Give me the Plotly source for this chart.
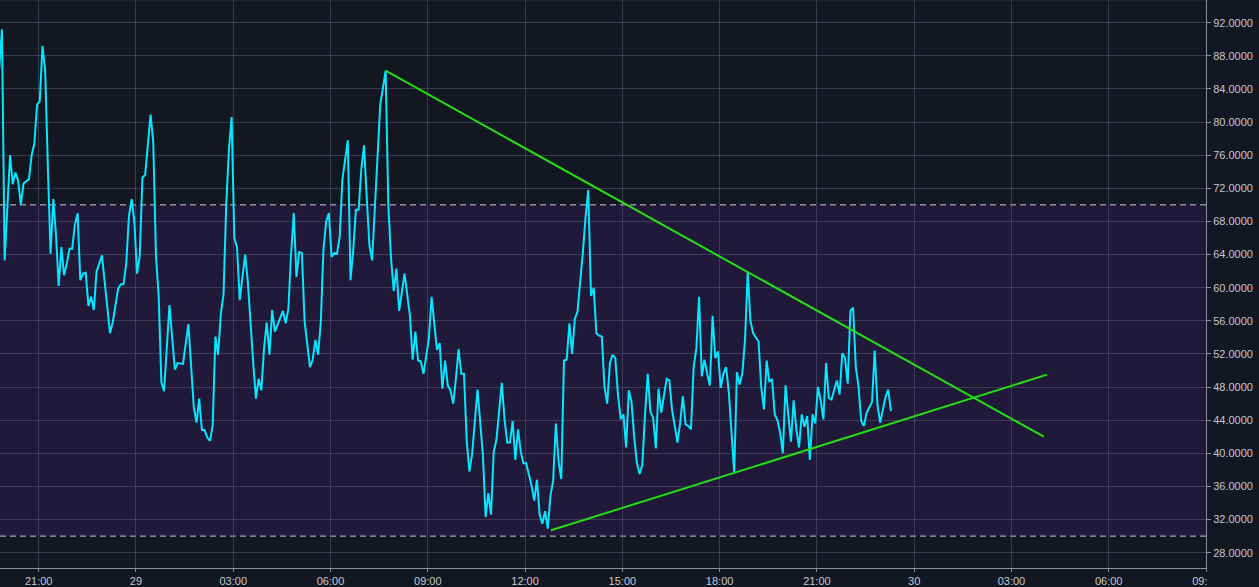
import pandas as pd
import plotly.graph_objects as go

# 5-minute bars counted from the first bar, and the RSI value read for each
START = pd.Timestamp("2019-06-28 19:52")

bars_a = [-1, 0, 1, 3, 4, 5, 6, 7, 8, 9,
          10, 11, 12, 13, 14, 15, 16, 17, 18, 19,
          20, 21, 22, 23, 24, 25, 26, 27, 28, 29,
          30, 31, 32, 33, 34, 35, 37, 40, 41, 43,
          44, 45, 46, 47, 48, 49, 50, 51, 52, 53]
rsi_a = [86.5, 91.2, 63.3, 76.0, 72.5, 73.9, 72.9, 70.0, 72.6, 72.8,
         73.1, 76.0, 77.4, 82.1, 82.5, 89.2, 86.2, 74.5, 64.1, 70.7,
         66.4, 60.2, 64.9, 61.5, 62.9, 64.7, 64.7, 67.6, 69.0, 60.9,
         61.7, 61.8, 57.8, 58.9, 57.3, 61.9, 63.9, 54.5, 55.8, 59.9,
         60.4, 60.4, 62.9, 68.6, 70.7, 68.0, 61.7, 63.8, 73.3, 73.6]

bars_b = [55, 56, 57, 58, 59, 60, 62, 64, 65,
          67, 69, 71, 72, 73, 74, 75, 76, 77, 78,
          79, 80, 81, 82, 83, 84, 85, 86, 87, 88,
          90, 91, 93, 94, 95, 96, 97, 98, 99, 100,
          101, 102, 104, 105, 106, 107, 108, 109]
rsi_b = [80.9, 77.6, 63.9, 59.0, 48.6, 47.5, 57.9, 50.1, 50.9,
         50.8, 55.6, 45.6, 43.7, 46.6, 42.8, 42.8, 41.9, 41.5, 43.4,
         54.1, 51.9, 56.8, 59.2, 70.0, 76.6, 80.6, 66.0, 64.9, 58.5,
         64.0, 60.7, 50.9, 46.6, 49.0, 47.6, 52.7, 55.8, 51.9, 57.3,
         54.7, 55.6, 57.2, 55.7, 57.4, 64.1, 69.0, 61.3]

bars_c = [110, 111, 112, 114, 115, 116, 117, 118, 119, 120,
          121, 122, 123, 124, 125, 126, 127, 128, 129, 130,
          131, 132, 133, 134, 135, 136, 137, 138, 139, 140,
          141, 142, 143, 144, 145, 146, 147, 149, 151, 152,
          153, 154, 155, 156, 157, 158, 159, 160, 161, 162,
          163, 164]
rsi_c = [64.3, 64.2, 56.0, 50.4, 51.3, 53.7, 51.9, 55.8, 64.7, 68.0,
         69.0, 63.7, 64.2, 64.1, 66.2, 73.1, 75.8, 77.8, 60.9, 64.5,
         69.4, 69.4, 74.3, 77.2, 70.9, 65.1, 63.3, 70.0, 77.0, 82.1,
         84.1, 86.2, 70.0, 63.5, 59.6, 62.3, 57.2, 61.7, 56.6, 51.3,
         54.7, 51.2, 51.1, 49.6, 51.7, 53.9, 58.9, 55.3, 52.5, 53.3,
         47.8, 51.2]

bars_d = [165, 166, 167, 168, 169, 170, 171, 172, 173, 174,
          176, 178, 179, 180, 181, 182, 183, 184, 185, 186,
          187, 188, 189, 190, 191, 192, 193, 194, 195, 196,
          197, 198, 199, 200, 201, 202, 203, 204, 205, 206,
          207, 208, 209, 210, 211, 212, 213, 214, 215, 216,
          217, 218, 219]
rsi_d = [48.2, 47.6, 46.0, 49.0, 52.6, 49.6, 49.6, 41.5, 37.8, 39.9,
         47.7, 39.8, 32.3, 35.2, 32.6, 40.2, 41.6, 45.1, 48.5, 44.1,
         41.3, 41.3, 43.9, 39.2, 42.9, 40.2, 38.8, 38.8, 37.4, 36.1,
         34.3, 36.8, 32.6, 31.5, 33.0, 30.9, 34.9, 36.7, 43.6, 39.0,
         36.9, 51.2, 51.3, 55.7, 52.0, 56.2, 57.1, 60.4, 64.3, 68.6,
         71.8, 59.0, 60.0]

bars_e = [220, 221, 222, 223, 224, 225, 226, 227, 228, 229,
          230, 231, 232, 233, 234, 235, 236, 237, 238, 239,
          240, 241, 242, 243, 244, 246, 247, 248, 249, 250,
          251, 252, 253, 254, 255, 256, 257, 258, 259, 260,
          261, 262, 263, 264, 265, 266, 267, 268, 269, 270,
          271, 272, 273, 274]
rsi_e = [54.5, 54.2, 54.1, 48.0, 46.0, 50.9, 51.9, 51.5, 47.0, 44.1,
         44.7, 40.7, 47.6, 46.2, 41.9, 38.8, 37.5, 38.6, 44.7, 49.6,
         45.0, 44.3, 40.6, 47.8, 44.9, 49.0, 48.8, 45.2, 43.3, 41.3,
         43.7, 46.9, 43.5, 43.3, 42.9, 50.4, 52.7, 58.9, 49.3, 51.3,
         49.6, 48.2, 56.6, 51.5, 52.3, 47.9, 49.6, 50.4, 47.4, 42.3,
         37.6, 49.8, 48.3, 49.6]

bars_f = [275, 276, 277, 278, 280, 281, 282, 283, 284, 285,
          286, 287, 288, 289, 290, 291, 292, 293, 294, 295,
          296, 297, 298, 299, 300, 301, 302, 303, 304, 305,
          306, 307, 308, 309, 310, 311, 312, 313, 314, 315,
          316, 317, 318, 319, 320, 321, 322, 323, 324, 325,
          326, 327, 328, 329]
rsi_f = [53.7, 61.9, 56.0, 54.5, 53.5, 48.0, 45.3, 51.2, 48.6, 49.0,
         44.7, 44.0, 42.5, 40.0, 48.2, 44.7, 41.4, 46.4, 42.9, 40.7,
         44.7, 43.2, 44.5, 39.2, 44.7, 43.6, 48.0, 46.4, 44.1, 50.9,
         46.7, 46.5, 47.8, 48.8, 47.1, 52.1, 51.5, 48.4, 57.2, 57.6,
         50.4, 48.1, 43.9, 43.3, 44.9, 45.5, 46.2, 52.4, 45.9, 43.7,
         45.1, 46.8, 47.7, 45.1]

# drawn trend lines (triangle)
upper_x = ["2019-06-29 07:42", "2019-06-30 04:00"]
upper_y = [86.2, 42.0]
lower_x = ["2019-06-29 12:48", "2019-06-30 04:06"]
lower_y = [30.7, 49.5]

tick_times = ["2019-06-28 21:00", "2019-06-29 00:00", "2019-06-29 03:00",
              "2019-06-29 06:00", "2019-06-29 09:00", "2019-06-29 12:00",
              "2019-06-29 15:00", "2019-06-29 18:00", "2019-06-29 21:00",
              "2019-06-30 00:00", "2019-06-30 03:00", "2019-06-30 06:00",
              "2019-06-30 09:00"]
tick_labels = ["21:00", "29", "03:00", "06:00", "09:00", "12:00", "15:00",
               "18:00", "21:00", "30", "03:00", "06:00", "09:00"]

bars = bars_a + bars_b + bars_c + bars_d + bars_e + bars_f
rsi = rsi_a + rsi_b + rsi_c + rsi_d + rsi_e + rsi_f
assert len(bars) == len(rsi)
times = [START + pd.Timedelta(minutes=5 * b) for b in bars]

BG = "#131722"
fig = go.Figure()
fig.add_trace(go.Scatter(x=times, y=rsi, mode="lines",
                         line=dict(color="#08e6ff", width=2),
                         hoverinfo="skip", showlegend=False))
for xs, ys in [(upper_x, upper_y), (lower_x, lower_y)]:
    fig.add_trace(go.Scatter(x=xs, y=ys, mode="lines",
                             line=dict(color="#27dc16", width=2),
                             hoverinfo="skip", showlegend=False))

# 30-70 band
fig.add_shape(type="rect", xref="paper", x0=0, x1=1, y0=30, y1=70,
              fillcolor="#21193a", line=dict(width=0), layer="below")
for lvl in [30, 70]:
    fig.add_shape(type="line", xref="paper", x0=0, x1=1, y0=lvl, y1=lvl,
                  line=dict(color="#c8c8d0", width=1, dash="6px,4px"),
                  layer="between")
# top pane border
fig.add_shape(type="line", xref="paper", yref="paper", x0=0, x1=1, y0=1, y1=1,
              line=dict(color="#2a2e39", width=1), layer="above")
# clip the last time label at the price scale
fig.add_shape(type="rect", xref="paper", yref="paper", x0=1.0008, x1=1.05,
              y0=-0.04, y1=-0.0025, fillcolor=BG, line=dict(width=0),
              layer="above")

grid = "rgba(100,104,134,0.45)"
tick_font = dict(family="Liberation Sans, Arial", size=11, color="#c4c7cf")
fig.update_xaxes(range=["2019-06-28 19:48:24", "2019-06-30 09:00"],
                 tickvals=tick_times, ticktext=tick_labels,
                 showgrid=True, gridcolor=grid, gridwidth=1,
                 showline=True, linecolor="#8c8f99", linewidth=1,
                 ticks="outside", ticklen=3, tickcolor="#8c8f99",
                 tickfont=tick_font, zeroline=False, fixedrange=True)
fig.update_yaxes(range=[26.15, 94.74], side="right", dtick=4, tick0=0,
                 tickformat=".4f", showgrid=True, gridcolor=grid, gridwidth=1,
                 showline=True, linecolor="#8c8f99", linewidth=1,
                 ticks="outside", ticklen=4, tickcolor="#8c8f99",
                 tickfont=tick_font, zeroline=False, fixedrange=True)
fig.update_layout(width=1259, height=587, paper_bgcolor=BG, plot_bgcolor=BG,
                  margin=dict(l=0, r=53, t=0, b=19), showlegend=False)

# page body has a default 8px margin; remove it so the figure fills the window
fig.write_html("out.html", config={"displayModeBar": False},
               post_script="document.body.style.margin='0';"
                           "document.body.style.overflow='hidden';"
                           "document.body.style.background='%s';" % BG)
